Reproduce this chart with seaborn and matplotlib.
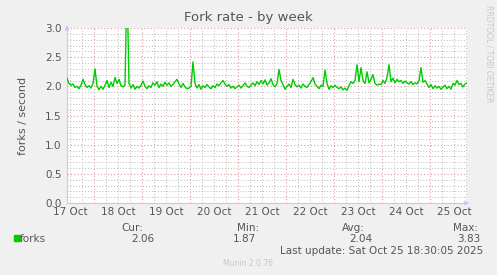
import numpy as np
import pandas as pd
import matplotlib
matplotlib.use("Agg")
import matplotlib.pyplot as plt
from matplotlib.ticker import MultipleLocator, FuncFormatter
import seaborn as sns

# ---- data ----
start_hour = 10.5          # hours after 17 Oct 00:00
step_hours = 1.0
forks = [
    2.14, 2.05, 2.02, 2.04, 1.98, 2.00, 1.96, 2.02, 2.12, 2.03,
    1.98, 2.01, 1.97, 2.05, 2.30, 2.00, 1.94, 2.00, 1.95, 2.02,
    2.10, 1.98, 2.07, 2.00, 2.15, 2.05, 2.12, 2.01, 1.99, 2.02,
    3.83, 2.05, 1.97, 2.03, 1.95, 2.00, 1.97, 2.02, 2.09, 2.00,
    1.96, 2.01, 1.98, 2.06, 2.02, 2.08, 1.98, 2.04, 2.00, 2.07,
    2.02, 2.06, 2.00, 2.03, 2.08, 2.12, 2.04, 1.98, 2.05, 1.99,
    1.96, 1.97, 2.00, 2.42, 2.05, 1.97, 2.03, 1.95, 2.01, 1.98,
    2.03, 1.99, 1.96, 2.01, 1.98, 2.04, 2.01, 2.06, 2.10, 2.04,
    2.00, 2.03, 1.97, 2.00, 1.96, 1.99, 2.02, 1.97, 2.01, 2.06,
    2.00, 1.98, 2.02, 2.06, 2.01, 2.08, 2.03, 2.10, 2.04, 2.11,
    2.02, 2.06, 2.13, 2.03, 1.99, 2.05, 2.29, 2.10, 2.03, 1.95,
    2.00, 2.04, 1.98, 2.12, 2.03, 1.99, 2.02, 1.97, 2.04, 2.00,
    1.98, 2.03, 2.08, 2.15, 2.04, 2.00, 1.96, 2.02, 2.00, 2.28,
    2.05, 1.95, 2.01, 1.98, 2.02, 1.98, 1.96, 1.99, 1.94, 1.97,
    1.93, 2.01, 2.08, 2.05, 2.10, 2.37, 2.08, 2.32, 2.10, 2.05,
    2.25, 2.06, 2.12, 2.20, 2.05, 2.02, 2.04, 2.03, 2.10, 2.05,
    2.15, 2.37, 2.08, 2.14, 2.06, 2.12, 2.08, 2.10, 2.05, 2.09,
    2.06, 2.04, 2.08, 2.03, 2.06, 2.04, 2.10, 2.32, 2.07, 2.10,
    2.04, 1.98, 2.03, 1.96, 2.01, 1.97, 2.00, 1.95, 1.99, 2.02,
    1.96, 2.00, 1.95, 2.05, 2.02, 2.10, 2.03, 2.05, 1.99, 2.04,
    2.06,
]
day_labels = ["17 Oct", "18 Oct", "19 Oct", "20 Oct", "21 Oct",
              "22 Oct", "23 Oct", "24 Oct", "25 Oct"]
legend_name = "forks"
stat_names = ["Cur:", "Min:", "Avg:", "Max:"]
stat_values = ["2.06", "1.87", "2.04", "3.83"]
title = "Fork rate - by week"
ylabel = "forks / second"
last_update = "Last update: Sat Oct 25 18:30:05 2025"
footer = "Munin 2.0.76"
side_text = "RRDTOOL / TOBI OETIKER"

hours = start_hour + step_hours * np.arange(len(forks))
df = pd.DataFrame({"hours": hours, "forks": forks})

# ---- figure ----
W, H = 497, 275
fig = plt.figure(figsize=(W / 100, H / 100), dpi=100, facecolor="#F0F0F0")
ax = fig.add_axes([67 / W, (H - 203) / H, 400 / W, 175 / H])
ax.set_facecolor("white")

sns.lineplot(data=df, x="hours", y="forks", ax=ax, color="#00CC00",
             linewidth=1.0, zorder=3, clip_on=True)

ax.set_xlim(start_hour, start_hour + step_hours * (len(forks) - 1))
ax.set_ylim(0, 3.0)

txt = "#555555"
ax.xaxis.set_major_locator(MultipleLocator(24))
ax.xaxis.set_minor_locator(MultipleLocator(6))
ax.xaxis.set_major_formatter(FuncFormatter(lambda v, p: ""))

def noon_fmt(v, p):
    h = int(round(v))
    if h % 24 == 12:
        d = h // 24
        if 0 <= d < len(day_labels):
            return day_labels[d]
    return ""

ax.xaxis.set_minor_formatter(FuncFormatter(noon_fmt))
ax.yaxis.set_major_locator(MultipleLocator(0.5))
ax.yaxis.set_minor_locator(MultipleLocator(0.1))
ax.yaxis.set_major_formatter(FuncFormatter(lambda v, p: f"{v:.1f}"))

ax.grid(which="major", color="#E09A9A", linestyle=(0, (1, 2)), linewidth=0.8, zorder=1)
ax.grid(which="minor", color="#B8B8B8", linestyle=(0, (1, 2)), linewidth=0.7, zorder=1)
ax.tick_params(which="both", length=0, colors=txt, labelsize=7.5)
ax.tick_params(axis="x", which="minor", pad=3)
ax.tick_params(axis="y", pad=4)

for s in ["top", "right"]:
    ax.spines[s].set_visible(False)
ax.spines["left"].set_color("#C8C8F0")
ax.spines["bottom"].set_color("#C8C8F0")
ax.spines["left"].set_linewidth(0.8)
ax.spines["bottom"].set_linewidth(0.8)
ax.annotate("", xy=(1.012, 0), xytext=(0.99, 0), xycoords="axes fraction",
            arrowprops=dict(arrowstyle="-|>", color="#C8C8F0", lw=0.8,
                            mutation_scale=6), annotation_clip=False)
ax.annotate("", xy=(0, 1.03), xytext=(0, 0.99), xycoords="axes fraction",
            arrowprops=dict(arrowstyle="-|>", color="#C8C8F0", lw=0.8,
                            mutation_scale=6), annotation_clip=False)

ax.set_xlabel("")
ax.set_ylabel(ylabel, color=txt, fontsize=8, labelpad=12)

def fx(x):
    return x / W

def fy(y):
    return 1 - y / H

fig.text(fx(248), fy(18), title, ha="center", va="center", color=txt, fontsize=9.5)
fig.text(fx(489), fy(54), side_text, ha="center", va="center", rotation=-90,
         color="#C8C8C8", fontsize=5.5)

fig.patches.append(plt.Rectangle((fx(14), fy(241)), 6 / W, 6 / H,
                                 transform=fig.transFigure, color="#00CC00"))
fig.text(fx(20), fy(239), legend_name, ha="left", va="center", color=txt, fontsize=7.5)
name_x = [132, 248, 353, 466]
val_x = [143, 244, 361, 469]
for nx, vx, n, v in zip(name_x, val_x, stat_names, stat_values):
    fig.text(fx(nx), fy(228), n, ha="center", va="center", color=txt, fontsize=7.5)
    fig.text(fx(vx), fy(239), v, ha="center", va="center", color=txt, fontsize=7.5)
fig.text(fx(483), fy(251), last_update, ha="right", va="center", color=txt, fontsize=7.5)
fig.text(fx(248), fy(264), footer, ha="center", va="center", color="#C8C8C8", fontsize=5.5)

fig.savefig("out.png", dpi=100, facecolor=fig.get_facecolor())
